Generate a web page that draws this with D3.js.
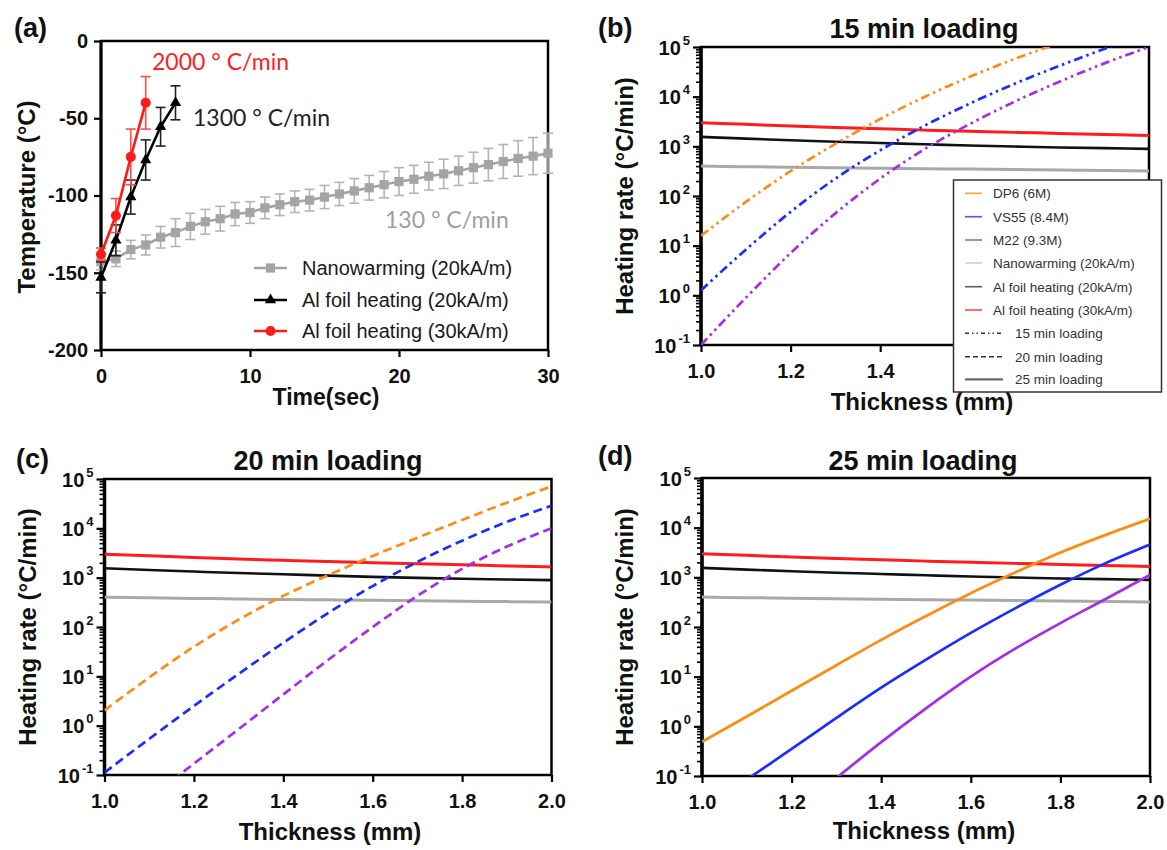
<!DOCTYPE html>
<html><head><meta charset="utf-8">
<script src="https://cdn.jsdelivr.net/npm/d3@7"></script>
<style>body{margin:0;background:#fff}</style>
</head><body>
<svg id="c" width="1167" height="850"></svg>
<script>
// ---------------- DATA ----------------
// Panel (a)
const timeSec = [0,1,2,3,4,5,6,7,8,9,10,11,12,13,14,15,16,17,18,19,20,21,22,23,24,25,26,27,28,29,30];
const nanoTemp = [-143,-141,-135,-132,-127,-124,-120,-117,-115,-112,-111,-108,-106,-104,-103,-101,-99,-97,-95,-93,-91,-89.5,-87.5,-86,-84,-82,-80,-78,-76,-74.5,-72.6];
const nanoErr  = [5,5,6,6.5,7,9,8.5,8,8,7.5,7,7,7,7,7,7.5,7.5,8,8,8.5,9,9,9,9.5,9.5,10,10.5,11,11.5,12,13];
const al20Time = [0,1,2,3,4,5];
const al20Temp = [-153,-129,-101,-77,-55.5,-40];
const al20Err  = [10,10,11,13,12.5,11];
const al30Time = [0,1,2,3];
const al30Temp = [-138,-113,-75,-40];
const al30Err  = [4,11,18,17];
const tempTicks = [0,-50,-100,-150,-200];
const timeTicks = [0,10,20,30];
const legendA = ["Nanowarming (20kA/m)","Al foil heating (20kA/m)","Al foil heating (30kA/m)"];
const notesA = ["2000 ° C/min","1300 ° C/min","130 ° C/min"];

// Panels (b)-(d)
const thickness = [1.0,1.1,1.2,1.3,1.4,1.5,1.6,1.7,1.8,1.9,2.0];
const rateAl30 = [3000,2770,2560,2390,2250,2120,2010,1910,1820,1730,1650];
const rateAl20 = [1550,1430,1330,1240,1170,1100,1040,990,950,920,890];
const rateNano = [400,390,380,370,362,355,348,340,333,327,320];
const dp6_15  = [15.8,75.9,316,1120,3550,10000,25100,57500,120000,240000,457000];
const vs55_15 = [1.26,8.3,47.9,224,832,2630,7240,18200,41700,91200,190500];
const m22_15  = [0.1,0.89,7.1,44.7,224,891,2820,7940,20000,46800,100000];
const dp6_20  = [2.04,9.5,39.8,141,427,1120,2750,6460,14800,33100,70800];
const vs55_20 = [0.112,0.54,2.5,11.2,47.9,191,676,2090,5620,13500,28800];
const m22_20  = [0.008,0.035,0.17,0.85,4.3,21.4,100,427,1510,4270,10000];
const dp6_25  = [0.49,1.58,5.2,17,55,166,479,1260,3160,7080,15100];
const vs55_25 = [0.02,0.085,0.35,1.48,6.0,22,76,240,708,1910,4570];
const m22_25  = [null,null,0.016,0.091,0.48,2.3,10,37,120,363,1120];
const thickTicks = [1.0,1.2,1.4,1.6,1.8,2.0];
const rateExps = [-1,0,1,2,3,4,5];
const legendB = ["DP6 (6M)","VS55 (8.4M)","M22 (9.3M)","Nanowarming (20kA/m)","Al foil heating (20kA/m)","Al foil heating (30kA/m)"];
const legendLoad = ["15 min loading","20 min loading","25 min loading"];

// ---------------- STYLE ----------------
const F = "'Liberation Sans', Arial, sans-serif";
const C = {orange:"#ff8c12", blue:"#1c2cff", purple:"#a62ce6", red:"#ff1c1c", black:"#111111", gray:"#a9a9a9"};
const DASH = {"15":"9,4,2.5,4,2.5,4", "20":"9,5", "25":null};

const svg = d3.select("#c");
svg.append("rect").attr("width",1167).attr("height",850).attr("fill","#fff");

function styleAxis(g, size){
  g.select(".domain").remove();
  g.selectAll(".tick line").attr("stroke","#000").attr("stroke-width",2.2);
  g.selectAll(".tick text").attr("font-family",F).attr("font-weight","bold")
    .attr("font-size",size).attr("fill","#111");
}
function frame(B, yw){
  svg.append("rect").attr("x",B.l).attr("y",B.t).attr("width",B.r-B.l).attr("height",B.b-B.t)
    .attr("fill","none").attr("stroke","#000").attr("stroke-width",2.5);
  svg.append("line").attr("x1",B.l).attr("x2",B.l).attr("y1",B.t-1).attr("y2",B.b+1)
    .attr("stroke","#000").attr("stroke-width",yw);
}
function txt(x,y,s,opt){
  const t = svg.append("text").attr("x",x).attr("y",y).text(s)
    .attr("font-family",opt.family||F).attr("font-size",opt.size)
    .attr("font-weight",opt.weight||"normal").attr("fill",opt.fill||"#111")
    .attr("text-anchor",opt.anchor||"start");
  if(opt.rotate) t.attr("transform",`rotate(-90,${x},${y})`);
  return t;
}

// ---------------- PANEL (a) ----------------
const A = {l:101, r:548, t:41, b:350};
const xA = d3.scaleLinear().domain([0,30]).range([A.l,A.r]);
const yA = d3.scaleLinear().domain([-200,0]).range([A.b,A.t]);

svg.append("g").attr("transform",`translate(0,${A.b})`)
  .call(d3.axisBottom(xA).tickValues(timeTicks).tickSize(7).tickPadding(12).tickFormat(d3.format("d")))
  .call(g=>styleAxis(g,20));
svg.append("g").attr("transform",`translate(${A.l},0)`)
  .call(d3.axisLeft(yA).tickValues(tempTicks).tickSize(7).tickPadding(6).tickFormat(d=>String(d)))
  .call(g=>styleAxis(g,20));
frame(A,3);

function seriesA(ts, vs, es, color, errColor, marker, msize){
  const pts = ts.map((t,i)=>({t, v:vs[i], e:es[i]}));
  const g = svg.append("g");
  g.selectAll("line.eb").data(pts).join("line")
    .attr("x1",d=>xA(d.t)).attr("x2",d=>xA(d.t)).attr("y1",d=>yA(d.v-d.e)).attr("y2",d=>yA(d.v+d.e))
    .attr("stroke",errColor).attr("stroke-width",1.6);
  [-1,1].forEach(s=>{
    g.append("g").selectAll("line").data(pts).join("line")
      .attr("x1",d=>xA(d.t)-5).attr("x2",d=>xA(d.t)+5)
      .attr("y1",d=>yA(d.v+s*d.e)).attr("y2",d=>yA(d.v+s*d.e))
      .attr("stroke",errColor).attr("stroke-width",1.6);
  });
  g.append("path").datum(pts).attr("fill","none").attr("stroke",color).attr("stroke-width",2.6)
    .attr("d",d3.line().x(d=>xA(d.t)).y(d=>yA(d.v)));
  g.append("g").selectAll("path").data(pts).join("path")
    .attr("transform",d=>`translate(${xA(d.t)},${yA(d.v)})`)
    .attr("d",d3.symbol().type(marker).size(msize))
    .attr("fill",color);
}
seriesA(timeSec, nanoTemp, nanoErr, "#a4a4a4", "#b4b4b4", d3.symbolSquare, 85);
seriesA(al20Time, al20Temp, al20Err, "#000", "#222", d3.symbolTriangle, 55);
seriesA(al30Time, al30Temp, al30Err, "#ff1a1a", "#ff4a4a", d3.symbolCircle, 80);

// annotations
const NF = "Lato, 'Open Sans', sans-serif";
txt(152,70,notesA[0],{family:NF,size:23,fill:"#ff2020"});
txt(193,126,notesA[1],{family:NF,size:23,fill:"#222"});
txt(385,228,notesA[2],{family:NF,size:23,fill:"#a0a0a0"});

// legend (a)
const legA = [{c:"#a4a4a4",m:d3.symbolSquare,s:85},{c:"#000",m:d3.symbolTriangle,s:55},{c:"#ff1a1a",m:d3.symbolCircle,s:80}];
const legAy = [268,300,331];
legA.forEach((L,i)=>{
  svg.append("line").attr("x1",254).attr("x2",287).attr("y1",legAy[i]).attr("y2",legAy[i])
    .attr("stroke",L.c).attr("stroke-width",2.6);
  svg.append("path").attr("transform",`translate(270.5,${legAy[i]})`)
    .attr("d",d3.symbol().type(L.m).size(L.s)).attr("fill",L.c);
  txt(302,legAy[i]+7,legendA[i],{size:20,fill:"#1a1a1a"});
});

txt(14,37,"(a)",{size:27,weight:"bold"});
txt(35,197,"Temperature (°C)",{size:24,weight:"bold",anchor:"middle",rotate:true});
txt(326,405,"Time(sec)",{size:23,weight:"bold",anchor:"middle"});

// ---------------- PANELS (b)-(d) ----------------
function ratePanel(B, key, title, label, titlePos, labelPos, ylabPos, xlabPos, series, hideFrom){
  const x = d3.scaleLinear().domain([1,2]).range([B.l,B.r]);
  const y = d3.scaleLog().domain([0.1,1e5]).range([B.b,B.t]);
  const clipId = "clip"+key;
  svg.append("clipPath").attr("id",clipId).append("rect")
    .attr("x",B.l).attr("y",B.t).attr("width",B.r-B.l).attr("height",B.b-B.t);

  const xt = thickTicks.filter(t=>hideFrom==null || t<hideFrom);
  svg.append("g").attr("transform",`translate(0,${B.b})`)
    .call(d3.axisBottom(x).tickValues(xt).tickSize(7).tickPadding(12).tickFormat(d3.format(".1f")))
    .call(g=>styleAxis(g,20));
  // minor ticks
  const minor = [];
  rateExps.slice(0,-1).forEach(e=>{ for(let k=2;k<10;k++) minor.push(k*Math.pow(10,e)); });
  svg.append("g").attr("transform",`translate(${B.l},0)`)
    .call(d3.axisLeft(y).tickValues(minor).tickSize(5).tickFormat(""))
    .call(g=>{g.select(".domain").remove(); g.selectAll(".tick line").attr("stroke","#000").attr("stroke-width",1.6);});
  // major ticks with superscript labels
  const gy = svg.append("g").attr("transform",`translate(${B.l},0)`)
    .call(d3.axisLeft(y).tickValues(rateExps.map(e=>Math.pow(10,e))).tickSize(8).tickFormat(""))
    .call(g=>{g.select(".domain").remove(); g.selectAll(".tick line").attr("stroke","#000").attr("stroke-width",2.2);});
  gy.selectAll(".tick").each(function(d){
    const e = Math.round(Math.log10(d));
    const t = d3.select(this).append("text").attr("x",-11).attr("y",7).attr("text-anchor","end")
      .attr("font-family",F).attr("font-weight","bold").attr("fill","#111");
    t.append("tspan").attr("font-size",20).text("10");
    t.append("tspan").attr("font-size",13).attr("dx",2).attr("dy",-10).text(e<0?"-"+(-e):String(e));
  });
  frame(B,3.5);

  const plot = svg.append("g").attr("clip-path",`url(#${clipId})`);
  const line = d3.line().defined(d=>d.v!=null).x(d=>x(d.t)).y(d=>y(d.v)).curve(d3.curveMonotoneX);
  const flat = [[rateNano,C.gray,3],[rateAl20,C.black,2.6],[rateAl30,C.red,3]];
  flat.forEach(([vals,col,w])=>{
    plot.append("path").datum(thickness.map((t,i)=>({t,v:vals[i]})))
      .attr("fill","none").attr("stroke",col).attr("stroke-width",w).attr("d",line);
  });
  series.forEach(([vals,col])=>{
    plot.append("path").datum(thickness.map((t,i)=>({t,v:vals[i]})))
      .attr("fill","none").attr("stroke",col).attr("stroke-width",2.7)
      .attr("stroke-dasharray",DASH[key]).attr("d",line);
  });

  txt(titlePos[0],titlePos[1],title,{size:27,weight:"bold",anchor:"middle"});
  txt(labelPos[0],labelPos[1],label,{size:27,weight:"bold"});
  txt(ylabPos[0],ylabPos[1],"Heating rate (°C/min)",{size:24,weight:"bold",anchor:"middle",rotate:true});
  txt(xlabPos[0],xlabPos[1],"Thickness (mm)",{size:24,weight:"bold",anchor:"middle"});
}

// in (b) the ticks at 1.6-2.0 sit under the legend box
ratePanel({l:701,r:1149,t:47,b:345},"15","15 min loading","(b)",[924,38],[598,37],[633,196],[922,410],
  [[dp6_15,C.orange],[vs55_15,C.blue],[m22_15,C.purple]], 1.55);
ratePanel({l:104.5,r:551.5,t:479,b:775},"20","20 min loading","(c)",[328,470],[16,468],[36,627],[330,840],
  [[dp6_20,C.orange],[vs55_20,C.blue],[m22_20,C.purple]], null);
ratePanel({l:702,r:1150,t:478,b:776},"25","25 min loading","(d)",[923,470],[598,465],[633,627],[924,839],
  [[dp6_25,C.orange],[vs55_25,C.blue],[m22_25,C.purple]], null);

// legend (b)
const lg = svg.append("g");
lg.append("rect").attr("x",953.5).attr("y",180).attr("width",208).attr("height",212)
  .attr("fill","#fff").attr("stroke","#333").attr("stroke-width",1.5);
const legCols = [C.orange,C.blue,C.purple,"#c4c4c4","#333",C.red];
const legY = [193.3,216.7,240,263,286.7,310,333.3,356.7,379.3];
legendB.forEach((n,i)=>{
  lg.append("line").attr("x1",965).attr("x2",982).attr("y1",legY[i]).attr("y2",legY[i])
    .attr("stroke",legCols[i]).attr("stroke-width",1.6).attr("opacity",0.8);
  lg.append("text").attr("x",993).attr("y",legY[i]+5).text(n)
    .attr("font-family",F).attr("font-size",13.5).attr("fill","#333");
});
const loadDash = ["4,3,1.5,3,1.5,3","5,3",null];
legendLoad.forEach((n,i)=>{
  const yy = legY[6+i];
  lg.append("line").attr("x1",965).attr("x2",1003).attr("y1",yy).attr("y2",yy)
    .attr("stroke",i==2?"#666":"#333").attr("stroke-width",i==2?2.2:1.6).attr("stroke-dasharray",loadDash[i]);
  lg.append("text").attr("x",1015).attr("y",yy+5).text(n)
    .attr("font-family",F).attr("font-size",13.5).attr("fill","#333");
});
</script>
</body></html>
